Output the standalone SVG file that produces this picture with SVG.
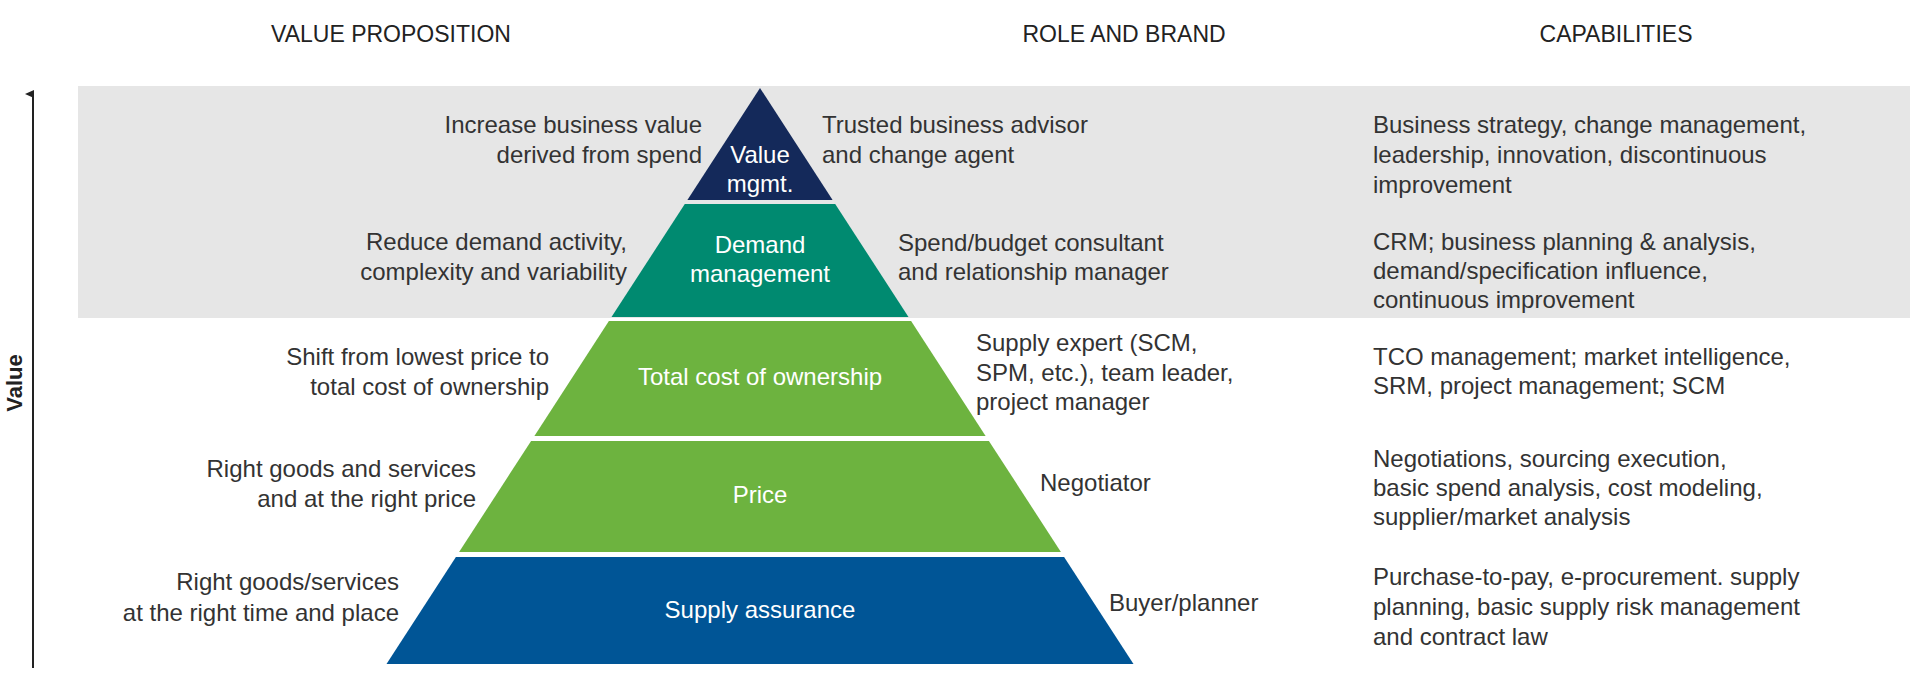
<svg xmlns="http://www.w3.org/2000/svg" width="1920" height="683" viewBox="0 0 1920 683">
<defs>
<style>
text{font-family:"Liberation Sans",Arial,sans-serif;font-size:24px;fill:#333}
.h{font-size:23px;text-anchor:middle;fill:#222}
.l{text-anchor:end}
.w{fill:#fff;text-anchor:middle}
</style>
<marker id="ar" markerWidth="10" markerHeight="10" refX="5" refY="8" orient="auto" markerUnits="userSpaceOnUse"><path d="M1,9 L5,0 L9,9 Z" fill="#222"/></marker>
</defs>
<rect width="1920" height="683" fill="#fff"/>
<rect x="78" y="86" width="1832" height="232" fill="#e6e6e6"/>
<text class="h" x="391" y="42">VALUE PROPOSITION</text>
<text class="h" x="1124" y="42">ROLE AND BRAND</text>
<text class="h" x="1616" y="42">CAPABILITIES</text>
<g id="connectors"><line x1="33" y1="668" x2="33" y2="94" stroke="#222" stroke-width="2" marker-end="url(#ar)"/></g>
<text x="22" y="383" transform="rotate(-90 22 383)" style="font-weight:bold;font-size:22px;text-anchor:middle;fill:#222">Value</text>
<g id="value-mgmt">
<polygon points="760,88 832.6,200 687.4,200" fill="#14295a"/>
<text class="w" x="760" y="163">Value</text><text class="w" x="760" y="192">mgmt.</text>
<text class="l" x="702" y="133">Increase business value</text><text class="l" x="702" y="163">derived from spend</text>
<text x="822" y="133">Trusted business advisor</text><text x="822" y="163">and change agent</text>
<text x="1373" y="133">Business strategy, change management,</text><text x="1373" y="163">leadership, innovation, discontinuous</text><text x="1373" y="193">improvement</text>
</g>
<g id="demand">
<polygon points="684.8,204 835.2,204 908.5,317 611.5,317" fill="#008a70"/>
<text class="w" x="760" y="253">Demand</text><text class="w" x="760" y="282">management</text>
<text class="l" x="627" y="250">Reduce demand activity,</text><text class="l" x="627" y="280">complexity and variability</text>
<text x="898" y="251">Spend/budget consultant</text><text x="898" y="280">and relationship manager</text>
<text x="1373" y="250">CRM; business planning &amp; analysis,</text><text x="1373" y="279">demand/specification influence,</text><text x="1373" y="308">continuous improvement</text>
</g>
<g id="tco">
<polygon points="608.9,321 911.1,321 985.6,436 534.4,436" fill="#6db33f"/>
<text class="w" x="760" y="385">Total cost of ownership</text>
<text class="l" x="549" y="365">Shift from lowest price to</text><text class="l" x="549" y="395">total cost of ownership</text>
<text x="976" y="351">Supply expert (SCM,</text><text x="976" y="381">SPM, etc.), team leader,</text><text x="976" y="410">project manager</text>
<text x="1373" y="365">TCO management; market intelligence,</text><text x="1373" y="394">SRM, project management; SCM</text>
</g>
<g id="price">
<polygon points="531.1,441 988.9,441 1060.9,552 459.1,552" fill="#6db33f"/>
<text class="w" x="760" y="503">Price</text>
<text class="l" x="476" y="477">Right goods and services</text><text class="l" x="476" y="507">and at the right price</text>
<text x="1040" y="491">Negotiator</text>
<text x="1373" y="467">Negotiations, sourcing execution,</text><text x="1373" y="496">basic spend analysis, cost modeling,</text><text x="1373" y="525">supplier/market analysis</text>
</g>
<g id="supply">
<polygon points="455.9,557 1064.1,557 1133.5,664 386.5,664" fill="#005596"/>
<text class="w" x="760" y="618">Supply assurance</text>
<text class="l" x="399" y="590">Right goods/services</text><text class="l" x="399" y="621">at the right time and place</text>
<text x="1109" y="611">Buyer/planner</text>
<text x="1373" y="585">Purchase-to-pay, e-procurement. supply</text><text x="1373" y="615">planning, basic supply risk management</text><text x="1373" y="645">and contract law</text>
</g>
</svg>
